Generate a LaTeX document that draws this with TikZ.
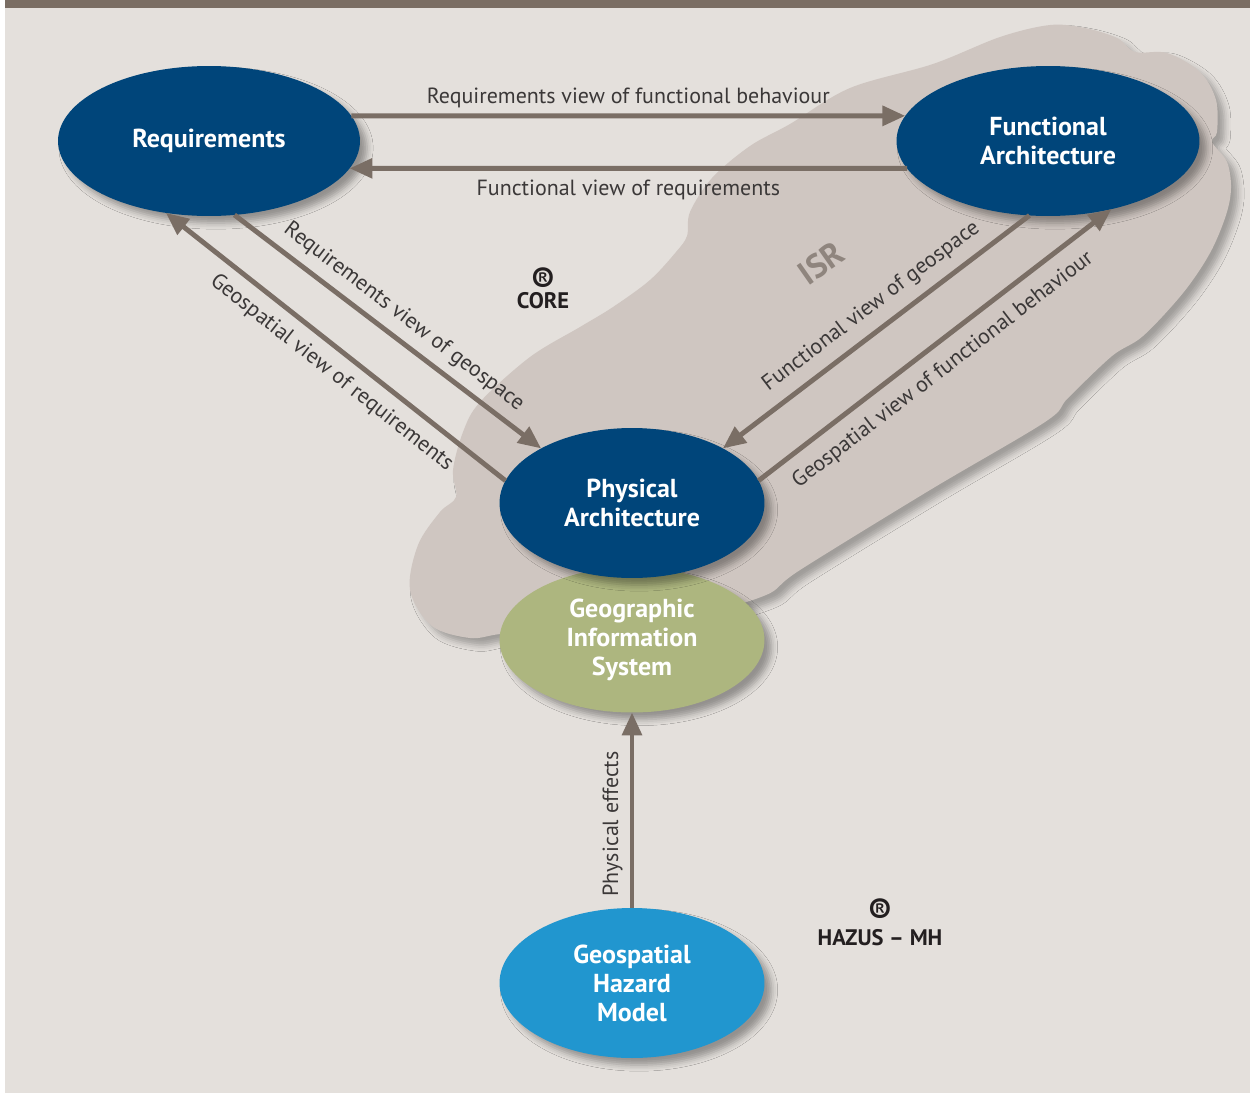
\documentclass[tikz,border=0pt]{standalone}
\usepackage{fontspec}
\setmainfont{PT Sans}
\usetikzlibrary{arrows.meta,shapes.geometric,shadows.blur,positioning}

\definecolor{barbrown}{HTML}{7A6D63}
\definecolor{paper}{HTML}{E4E0DC}
\definecolor{cloudgray}{HTML}{CFC6C1}
\definecolor{navyblob}{HTML}{00457A}
\definecolor{sageblob}{HTML}{ADB67F}
\definecolor{skyblob}{HTML}{2196CF}
\definecolor{arrowgray}{HTML}{7A6E65}
\definecolor{labelgray}{HTML}{3B3838}
\definecolor{isrgray}{HTML}{8F857E}
\definecolor{markblack}{HTML}{231F20}

\tikzset{
  blob/.style={ellipse, inner sep=0pt, outer sep=0pt, text=white, align=center,
    font=\bfseries\fontsize{14.8}{16.5}\selectfont,
    blur shadow={shadow xshift=4pt, shadow yshift=-4pt, shadow blur radius=3.5pt, shadow opacity=35}},
  flow/.style={-{Triangle[length=13pt,width=11pt]}, line width=2.8pt, draw=arrowgray},
  flowlabel/.style={font=\fontsize{12.5}{14}\selectfont, text=labelgray, inner sep=1pt},
  brand/.style={font=\bfseries\fontsize{12.8}{14}\selectfont, text=markblack, inner sep=0pt},
  brandmark/.style={font=\bfseries\fontsize{20}{20}\selectfont, text=markblack, inner sep=0pt},
}

\begin{document}
\begin{tikzpicture}[x=0.02cm, y=-0.02cm]
  \useasboundingbox (0,0) rectangle (1250,1092);
  % background and top bar
  \fill[white] (-5,-5) rectangle (1260,1100);
  \fill[paper] (5,0) rectangle (1260,1100);
  \fill[barbrown] (5,-5) rectangle (1260,8);

  % ISR cloud
  \fill[cloudgray, blur shadow={shadow xshift=4pt, shadow yshift=-4pt, shadow blur radius=3.5pt, shadow opacity=30}]
    plot[smooth cycle, tension=0.55] coordinates {
      (470,638) (432,626) (410,590) (418,545) (440,512) (456,497) (453,470)
      (463,432) (480,402) (530,357) (580,327) (613,307) (650,280) (676,252)
      (687,236) (690,212) (712,178) (750,146) (790,124) (850,88) (933,64)
      (1000,37) (1050,25) (1085,28) (1117,38) (1135,52) (1167,53) (1200,72)
      (1216,100) (1217,132) (1212,142) (1227,162) (1231,188) (1226,215)
      (1210,253) (1183,293) (1143,336) (1112,356) (1068,398) (1045,422)
      (930,490) (800,570) (766,595) (700,612) (560,628) (500,634)};
  \node[rotate=35, text=isrgray, font=\bfseries\fontsize{19}{22}\selectfont] (isr) at (821,263) {ISR};

  % tool marks
  \node[brand] (core) at (543,301) {CORE};
  \node[brandmark] (coremark) at (543,281) {®};
  \node[brand] (hazus) at (880,938) {HAZUS – MH};
  \node[brandmark] (hazusmark) at (880,912) {®};

  % ellipses
  \node[blob, fill=navyblob, minimum width=6.04cm, minimum height=3cm] (req) at (209,141) {Requirements};
  \node[blob, fill=navyblob, minimum width=6.06cm, minimum height=3cm] (func) at (1048,141) {Functional\\Architecture};
  \node[blob, fill=sageblob, minimum width=5.3cm, minimum height=2.9cm] (gis) at (632,640) {Geographic\\Information\\System};
  \node[blob, fill=navyblob, minimum width=5.3cm, minimum height=3cm] (phys) at (632,503) {Physical\\Architecture};
  \node[blob, fill=skyblob, minimum width=5.3cm, minimum height=3cm] (haz) at (632,983) {Geospatial\\Hazard\\Model};

  % views between the architectures
  \draw[flow] (req.10) -- node[flowlabel, above=2pt] {Requirements view of functional behaviour} (func.170);
  \draw[flow] (func.-169) -- node[flowlabel, below=4pt] {Functional view of requirements} (req.-11);
  \draw[flow] (req.-71) -- node[flowlabel, sloped, pos=0.51, above=4pt] {Requirements view of geospace} (phys.149);
  \draw[flow] (phys.170) -- node[flowlabel, sloped, pos=0.47, below=5pt] {Geospatial view of requirements} (req.-121);
  \draw[flow] (func.-104) -- node[flowlabel, sloped, pos=0.47, above=5pt] {Functional view of geospace} (phys.31);
  \draw[flow] (phys.10) -- node[flowlabel, sloped, pos=0.48, below=6pt] {Geospatial view of functional behaviour} (func.-47);
  \draw[flow] (haz.north) -- node[flowlabel, sloped, pos=0.43, above=3pt] {Physical effects} (gis.south);
\end{tikzpicture}
\end{document}
